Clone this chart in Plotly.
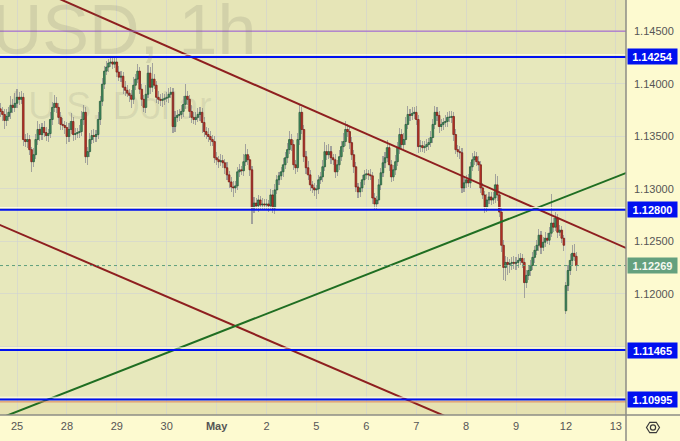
import math
import plotly.graph_objects as go

# ---------------- data (EURUSD 1h) ----------------
day_labels = ["25", "28", "29", "30", "May", "2", "5", "6", "7", "8", "9", "12", "13"]
first_hour = -8          # first bar is 8 hours before 25 Apr 00:00
first_open = 1.13760
gap_bar = 272            # first bar of 12 May (weekend gap)
gap_open = 1.11839

closes = [
    1.13736, 1.13707, 1.13650, 1.13688, 1.13727, 1.13794, 1.13774, 1.13813,
    # 25 Apr
    1.13870, 1.13851, 1.13870, 1.13468, 1.13449, 1.13468, 1.13372, 1.13257, 1.13324, 1.13468, 1.13564, 1.13516,
    1.13583, 1.13535, 1.13506, 1.13525, 1.13659, 1.13774, 1.13813, 1.13774, 1.13679, 1.13612, 1.13602, 1.13583,
    # 28 Apr
    1.13497, 1.13564, 1.13640, 1.13516, 1.13525, 1.13535, 1.13544, 1.13659, 1.13727, 1.13305, 1.13353, 1.13468,
    1.13506, 1.13497, 1.13516, 1.13659, 1.13832, 1.13995, 1.14119, 1.14158, 1.14196, 1.14206, 1.14186, 1.14206,
    # 29 Apr
    1.14110, 1.14062, 1.14071, 1.13966, 1.13937, 1.13909, 1.13889, 1.13851, 1.13985, 1.14043, 1.14119, 1.13947,
    1.13851, 1.13774, 1.13899, 1.14100, 1.13966, 1.14043, 1.13985, 1.13870, 1.13851, 1.13841, 1.13851, 1.13861,
    # 30 Apr
    1.13870, 1.13899, 1.13918, 1.13592, 1.13679, 1.13698, 1.13707, 1.13736, 1.13803, 1.13880, 1.13851, 1.13736,
    1.13679, 1.13659, 1.13679, 1.13707, 1.13727, 1.13631, 1.13544, 1.13516, 1.13497, 1.13468, 1.13449, 1.13295,
    # 1 May
    1.13276, 1.13257, 1.13267, 1.13247, 1.13200, 1.13132, 1.13065, 1.13017, 1.13008, 1.13027, 1.13161, 1.13180,
    1.13171, 1.13257, 1.13324, 1.13276, 1.13180, 1.12816, 1.12864, 1.12836, 1.12893, 1.12845, 1.12855, 1.12845,
    # 2 May
    1.12855, 1.12836, 1.12941, 1.12816, 1.12989, 1.13085, 1.13123, 1.13161, 1.13228, 1.13295, 1.13372, 1.13468,
    1.13420, 1.13228, 1.13200, 1.13468, 1.13727, 1.13564, 1.13305, 1.13200, 1.13132, 1.13037, 1.13008, 1.12989,
    # 5 May
    1.12998, 1.13085, 1.13113, 1.13209, 1.13353, 1.13324, 1.13353, 1.13295, 1.13276, 1.13161, 1.13228, 1.13305,
    1.13401, 1.13449, 1.13564, 1.13544, 1.13439, 1.13324, 1.13209, 1.13017, 1.12970, 1.13008, 1.13085, 1.13132,
    # 6 May
    1.13142, 1.13132, 1.13123, 1.12912, 1.12855, 1.12893, 1.13037, 1.13152, 1.13247, 1.13295, 1.13391, 1.13228,
    1.13113, 1.13180, 1.13257, 1.13391, 1.13516, 1.13420, 1.13468, 1.13612, 1.13707, 1.13698, 1.13717, 1.13727,
    # 7 May
    1.13659, 1.13401, 1.13410, 1.13391, 1.13401, 1.13420, 1.13439, 1.13487, 1.13612, 1.13727, 1.13698, 1.13592,
    1.13612, 1.13631, 1.13640, 1.13679, 1.13679, 1.13688, 1.13516, 1.13372, 1.13353, 1.13343, 1.13008, 1.13056,
    # 8 May
    1.13085, 1.13056, 1.13209, 1.13276, 1.13305, 1.13257, 1.13228, 1.13008, 1.12941, 1.12826, 1.12893, 1.12922,
    1.12893, 1.12912, 1.13037, 1.12941, 1.12778, 1.12462, 1.12251, 1.12299, 1.12280, 1.12290, 1.12299, 1.12290,
    # 9 May
    1.12299, 1.12318, 1.12337, 1.12299, 1.12107, 1.12175, 1.12222, 1.12270, 1.12347, 1.12414, 1.12462, 1.12558,
    1.12443, 1.12491, 1.12529, 1.12510, 1.12577, 1.12673, 1.12634, 1.12721, 1.12586, 1.12606, 1.12529, 1.12462,
    # 12 May
    1.12079, 1.12222, 1.12318, 1.12385, 1.12357, 1.12269,
]

# upper / lower shadows beyond the body, in pips
wick_up = [
    6, 4, 5, 7, 5, 9, 6, 10,
    8, 5, 6, 4, 5, 6, 4, 3, 6, 5, 8, 5, 4, 6, 5, 4, 7, 5, 8, 6, 4, 5, 6, 4,
    5, 6, 8, 4, 5, 4, 6, 8, 7, 5, 4, 6, 5, 6, 4, 7, 5, 6, 5, 6, 4, 5, 4, 5,
    4, 6, 5, 4, 6, 5, 4, 5, 8, 5, 7, 4, 5, 4, 9, 8, 6, 15, 5, 4, 6, 5, 6, 4,
    5, 6, 5, 4, 6, 5, 5, 6, 8, 12, 5, 4, 6, 5, 5, 6, 5, 4, 5, 4, 6, 5, 4, 5,
    5, 4, 6, 5, 4, 5, 4, 5, 6, 5, 5, 6, 4, 7, 10, 5, 4, 4, 6, 5, 5, 4, 6, 5,
    5, 4, 6, 5, 6, 5, 4, 5, 6, 5, 6, 8, 5, 4, 5, 6, 8, 5, 4, 5, 6, 5, 4, 5,
    4, 5, 5, 6, 9, 6, 7, 5, 4, 5, 5, 6, 5, 8, 8, 5, 4, 5, 4, 5, 4, 6, 5, 5,
    5, 4, 6, 4, 5, 4, 6, 5, 6, 5, 7, 4, 5, 5, 6, 5, 6, 5, 6, 7, 8, 5, 6, 5,
    6, 4, 5, 4, 5, 5, 4, 6, 5, 6, 5, 4, 5, 4, 6, 5, 6, 5, 4, 5, 4, 5, 4, 6,
    5, 6, 5, 6, 5, 4, 5, 4, 5, 4, 6, 5, 5, 6, 10, 8, 4, 4, 5, 6, 5, 4, 5, 6,
    5, 6, 5, 4, 4, 5, 4, 5, 5, 4, 5, 6, 4, 5, 6, 5, 6, 28, 5, 6, 4, 5, 4, 3,
    3, 5, 6, 8, 9, 4,
]
wick_dn = [
    5, 6, 8, 5, 4, 6, 5, 4,
    4, 5, 4, 6, 5, 6, 5, 10, 5, 4, 5, 6, 5, 4, 5, 6, 4, 5, 4, 5, 6, 5, 4, 6,
    7, 5, 4, 6, 5, 4, 5, 4, 5, 6, 8, 5, 4, 6, 5, 4, 5, 4, 5, 4, 5, 4, 5, 4,
    5, 4, 5, 6, 5, 4, 6, 8, 4, 5, 4, 5, 6, 4, 5, 4, 6, 5, 4, 5, 4, 5, 6, 5,
    4, 5, 4, 6, 5, 4, 5, 4, 5, 4, 5, 6, 5, 4, 5, 4, 6, 10, 5, 4, 5, 6, 4, 5,
    5, 6, 4, 5, 6, 5, 6, 5, 9, 5, 4, 5, 4, 5, 4, 5, 6, 15, 5, 4, 6, 5, 4, 5,
    5, 6, 4, 5, 6, 4, 5, 4, 5, 4, 5, 4, 6, 5, 6, 4, 5, 4, 5, 6, 5, 6, 5, 6,
    9, 5, 4, 5, 4, 5, 4, 6, 5, 6, 4, 5, 4, 5, 4, 5, 6, 5, 6, 5, 6, 5, 4, 5,
    4, 5, 4, 6, 6, 5, 4, 5, 4, 5, 4, 6, 5, 4, 5, 4, 6, 5, 4, 5, 4, 5, 4, 5,
    5, 6, 5, 4, 5, 4, 5, 4, 5, 4, 5, 6, 4, 5, 4, 5, 4, 5, 6, 4, 5, 6, 5, 4,
    5, 4, 5, 4, 5, 4, 6, 5, 4, 6, 5, 4, 5, 4, 5, 6, 5, 6, 12, 13, 10, 8, 6, 5,
    6, 5, 4, 5, 15, 5, 4, 5, 4, 5, 4, 5, 6, 4, 5, 4, 5, 4, 5, 4, 5, 4, 5, 5,
    3, 5, 4, 5, 4, 5,
]

levels_blue = [1.14254, 1.12800, 1.11465, 1.10995]
level_purple = 1.14500
last_price = 1.12269

trend_upper_x, trend_upper_y = [0.80, 12.30], [1.14817, 1.12416]
trend_lower_x, trend_lower_y = [-0.40, 8.60], [1.12667, 1.10832]
trend_green_x, trend_green_y = [-0.40, 12.30], [1.10805, 1.13168]

ytick_vals = [1.110, 1.115, 1.120, 1.125, 1.130, 1.135, 1.140, 1.145]
ytick_text = ["", "", "1.12000", "1.12500", "1.13000", "1.13500", "1.14000", "1.14500"]

x_range = [-0.341, 12.204]
y_range = [1.10847, 1.14796]

assert len(closes) == len(wick_up) == len(wick_dn) == 278, (len(closes), len(wick_up), len(wick_dn))

# ---------------- build OHLC ----------------
n = len(closes)
xs = [(first_hour + i) / 24.0 for i in range(n)]
opens = [first_open] + closes[:-1]
opens[gap_bar] = gap_open
highs = [max(o, c) + u * 1e-4 for o, c, u in zip(opens, closes, wick_up)]
lows = [min(o, c) - d * 1e-4 for o, c, d in zip(opens, closes, wick_dn)]
up = [c >= o for o, c in zip(opens, closes)]

FONT = "Liberation Sans, Arial, sans-serif"
PLOT_BG = "#e7e8bc"
PAPER_BG = "#fdfad0"
GRID = "rgba(205,207,214,0.55)"

fig = go.Figure()

# shadows (grey)
fig.add_trace(go.Bar(
    x=xs, base=lows, y=[h - l for h, l in zip(highs, lows)],
    width=0.022, marker=dict(color="#a2a29c", line=dict(width=0)),
    hoverinfo="skip", showlegend=False))
# bodies
fig.add_trace(go.Bar(
    x=xs, base=[min(o, c) for o, c in zip(opens, closes)],
    y=[max(abs(c - o), 0.00004) for o, c in zip(opens, closes)],
    width=0.033,
    marker=dict(color=["#468f64" if u else "#c2362a" for u in up],
                line=dict(color=["#1d5334" if u else "#6e1712" for u in up], width=0.7)),
    hoverinfo="skip", showlegend=False))

# trend lines
for tx, ty, col in [(trend_upper_x, trend_upper_y, "#8e1f1f"),
                    (trend_lower_x, trend_lower_y, "#8e1f1f"),
                    (trend_green_x, trend_green_y, "#1f6e22")]:
    fig.add_trace(go.Scatter(x=tx, y=ty, mode="lines", line=dict(color=col, width=2),
                             hoverinfo="skip", showlegend=False))

shapes = []
# zones at top and bottom
shapes.append(dict(type="rect", xref="paper", yref="y", x0=0, x1=1, y0=levels_blue[0] + 0.00021,
                   y1=y_range[1] + 0.01, fillcolor="rgba(225,200,130,0.09)", line=dict(width=0), layer="below"))
shapes.append(dict(type="rect", xref="paper", yref="y", x0=0, x1=1, y0=y_range[0] - 0.01,
                   y1=levels_blue[3] - 0.00023, fillcolor="rgba(225,200,130,0.18)", line=dict(width=0), layer="below"))
# pale highlight lines above the blue levels
for lv in levels_blue:
    shapes.append(dict(type="line", xref="paper", yref="y", x0=0, x1=1, y0=lv + 0.00021, y1=lv + 0.00021,
                       line=dict(color="rgba(255,255,235,0.95)", width=1)))
# orange border under the lowest level
shapes.append(dict(type="line", xref="paper", yref="y", x0=0, x1=1,
                   y0=levels_blue[3] - 0.00023, y1=levels_blue[3] - 0.00023,
                   line=dict(color="#e0865a", width=1)))
# purple level
shapes.append(dict(type="line", xref="paper", yref="y", x0=0, x1=1, y0=level_purple, y1=level_purple,
                   line=dict(color="#9a55d0", width=1)))
# blue levels
for lv in levels_blue:
    shapes.append(dict(type="line", xref="paper", yref="y", x0=0, x1=1, y0=lv, y1=lv,
                       line=dict(color="#0010f0", width=2)))
# last price dotted line
shapes.append(dict(type="line", xref="paper", yref="y", x0=0, x1=1, y0=last_price, y1=last_price,
                   line=dict(color="#5f9f7c", width=1, dash="dot")))

# frame lines extending into margins
W, H = 680, 441
PW, PH = 626, 415
shapes.append(dict(type="line", xref="paper", yref="paper", x0=0, x1=W / PW, y0=0, y1=0,
                   line=dict(color="#8c8c86", width=1.5)))
shapes.append(dict(type="line", xref="paper", yref="paper", x0=1, x1=1, y0=-(H - PH) / PH, y1=1,
                   line=dict(color="#8c8c86", width=1.5)))

# settings icon (hexagon + circle) in the corner
cx, cy = 653.0, 427.5
hexpts = []
for k in range(6):
    a = math.radians(60 * k)
    px = cx + 6.5 * math.cos(a)
    py = cy + 6.0 * math.sin(a)
    hexpts.append((px / PW, 1 - py / PH))
path = "M " + " L ".join(f"{x:.5f},{y:.5f}" for x, y in hexpts) + " Z"
shapes.append(dict(type="path", xref="paper", yref="paper", path=path,
                   line=dict(color="#3a3a3a", width=1.2)))
r = 2.6
shapes.append(dict(type="circle", xref="paper", yref="paper",
                   x0=(cx - r) / PW, x1=(cx + r) / PW, y0=1 - (cy + r) / PH, y1=1 - (cy - r) / PH,
                   line=dict(color="#3a3a3a", width=1.2)))

annotations = []
# watermark (partly outside the chart on the left, as in the original)
annotations.append(dict(xref="paper", yref="paper", x=258 / PW, y=1 - 30 / PH, xanchor="right",
                        yanchor="middle", text="EURUSD, 1h", showarrow=False,
                        font=dict(family=FONT, size=70, color="rgba(110,110,100,0.17)")))
annotations.append(dict(xref="paper", yref="paper", x=214 / PW, y=1 - 106 / PH, xanchor="right",
                        yanchor="middle", text="Euro / U.S. Dollar", showarrow=False,
                        font=dict(family=FONT, size=38, color="rgba(110,110,100,0.12)")))
# price boxes on the axis
for lv in levels_blue:
    annotations.append(dict(xref="paper", yref="y", x=1, y=lv, xanchor="left", yanchor="middle",
                            xshift=1, text=f"<b>{lv:.5f}</b>", showarrow=False,
                            font=dict(family=FONT, size=11, color="white"),
                            bgcolor="#0010f0", borderpad=1, width=47, height=13, align="center"))
annotations.append(dict(xref="paper", yref="y", x=1, y=last_price, xanchor="left", yanchor="middle",
                        xshift=1, text=f"<b>{last_price:.5f}</b>", showarrow=False,
                        font=dict(family=FONT, size=11, color="#f4f8f0"),
                        bgcolor="#64a07e", borderpad=1, width=47, height=13, align="center"))

ticktext_x = [f"<b>{t}</b>" if t == "May" else t for t in day_labels]

fig.update_layout(
    width=W, height=H,
    margin=dict(l=0, r=W - PW, t=0, b=H - PH, pad=0),
    paper_bgcolor=PAPER_BG, plot_bgcolor=PLOT_BG,
    barmode="overlay", bargap=0,
    showlegend=False, hovermode=False,
    font=dict(family=FONT, size=11, color="#555555"),
    shapes=shapes, annotations=annotations,
    xaxis=dict(range=x_range, tickmode="array", tickvals=list(range(len(day_labels))),
               ticktext=ticktext_x, showgrid=True, gridcolor=GRID, gridwidth=1,
               zeroline=False, showline=False, ticks="", ticklabelstandoff=3, fixedrange=True,
               tickfont=dict(family=FONT, size=11, color="#555555")),
    yaxis=dict(range=y_range, side="right", tickmode="array", tickvals=ytick_vals,
               ticktext=ytick_text, showgrid=True, gridcolor=GRID, gridwidth=1,
               zeroline=False, showline=False, ticks="", ticklabelstandoff=7, fixedrange=True,
               tickfont=dict(family=FONT, size=11, color="#555555")),
)

fig.write_html("out.html", config={"displayModeBar": False, "staticPlot": True},
               post_script="document.body.style.margin='0px';document.body.style.overflow='hidden';")
